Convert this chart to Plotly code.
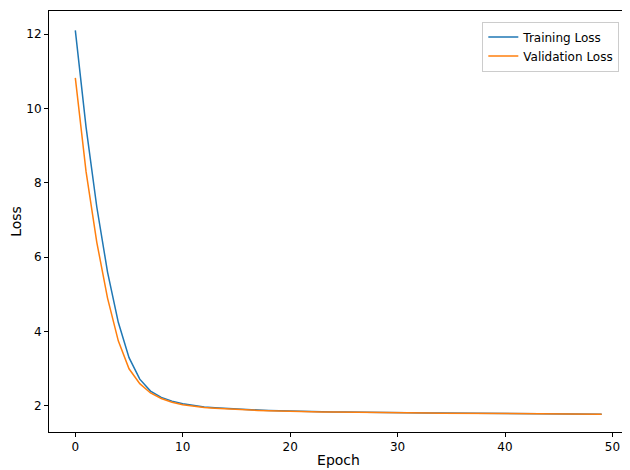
import plotly.graph_objects as go

epochs = list(range(50))
train_loss = [12.1, 9.5, 7.35, 5.6, 4.25, 3.3, 2.72, 2.4, 2.23, 2.13, 2.06, 2.01, 1.97, 1.95, 1.93, 1.91, 1.9, 1.89, 1.88, 1.87,
              1.86, 1.855, 1.85, 1.845, 1.84, 1.835, 1.83, 1.828, 1.825, 1.822, 1.82, 1.817, 1.815, 1.812, 1.81, 1.808, 1.805, 1.803, 1.8, 1.798,
              1.796, 1.794, 1.792, 1.79, 1.788, 1.786, 1.785, 1.783, 1.782, 1.78]
val_loss = [10.82, 8.3, 6.4, 4.9, 3.75, 3.0, 2.6, 2.35, 2.2, 2.1, 2.03, 1.99, 1.96, 1.94, 1.92, 1.9, 1.89, 1.88, 1.87, 1.86,
            1.855, 1.85, 1.845, 1.84, 1.835, 1.83, 1.826, 1.823, 1.82, 1.818, 1.815, 1.812, 1.81, 1.808, 1.805, 1.803, 1.8, 1.798, 1.796, 1.794,
            1.792, 1.79, 1.788, 1.786, 1.785, 1.784, 1.783, 1.782, 1.781, 1.78]

fig = go.Figure()
fig.add_trace(go.Scatter(x=epochs, y=train_loss, mode="lines", name="Training Loss",
                         line=dict(color="#1f77b4", width=1.5)))
fig.add_trace(go.Scatter(x=epochs, y=val_loss, mode="lines", name="Validation Loss",
                         line=dict(color="#ff7f0e", width=1.5)))

ax = dict(showline=True, linecolor="black", linewidth=1, mirror=True, showgrid=False, zeroline=False,
          ticks="outside", ticklen=4, tickcolor="black", tickfont=dict(size=12, color="black"))
fig.update_layout(
    width=620, height=460, plot_bgcolor="white", paper_bgcolor="white",
    font=dict(family="DejaVu Sans", size=12, color="black"),
    margin=dict(l=41, r=0, t=3, b=36, autoexpand=False),
    xaxis=dict(**ax, range=[-2.45, 51.45], tickvals=[0, 10, 20, 30, 40, 50],
               title=dict(text="Epoch", standoff=6)),
    yaxis=dict(**ax, range=[1.3, 12.62], tickvals=[2, 4, 6, 8, 10, 12],
               title=dict(text="Loss", standoff=8)),
    legend=dict(x=0.985, y=0.975, xanchor="right", yanchor="top", bordercolor="#cccccc",
                borderwidth=1, bgcolor="white", font=dict(size=12)),
)
fig.write_html("out.html")
